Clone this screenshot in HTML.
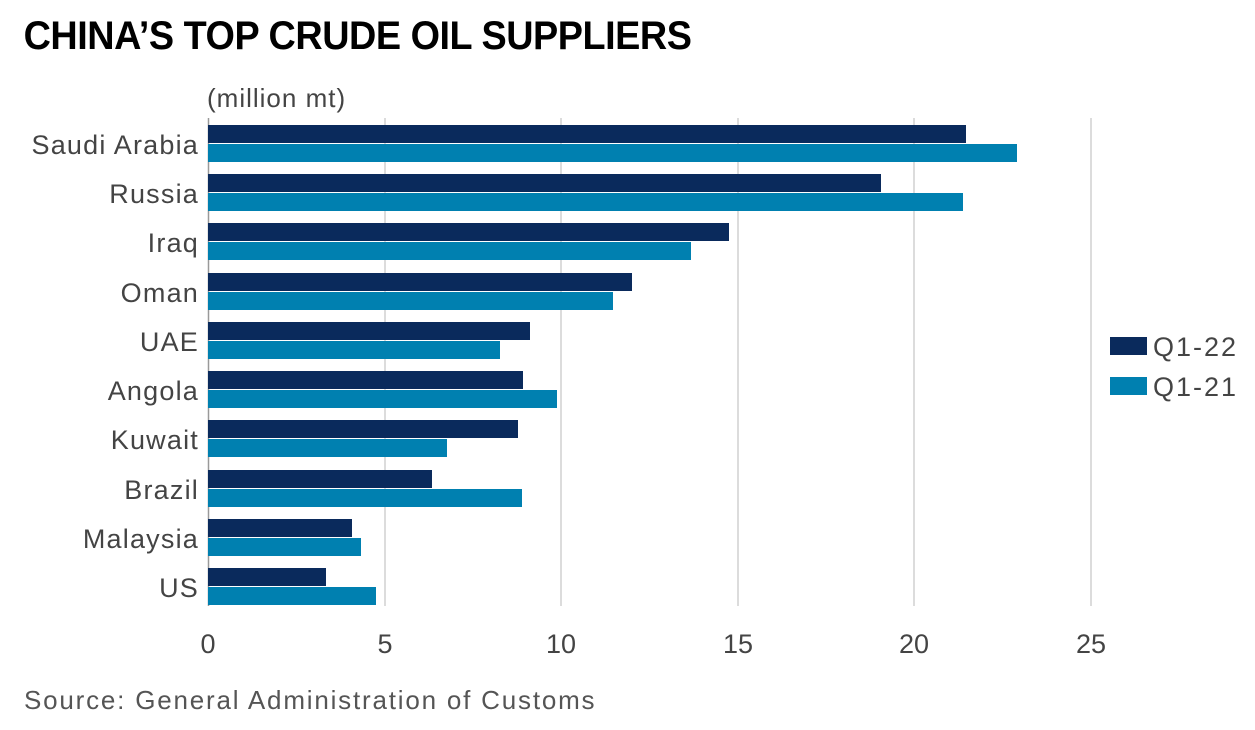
<!DOCTYPE html>
<html><head><meta charset="utf-8"><style>
body{margin:0;background:#fff;width:1255px;height:725px;overflow:hidden;font-family:"Liberation Sans",sans-serif}
</style></head><body>
<svg width="1255" height="725" xmlns="http://www.w3.org/2000/svg" font-family="Liberation Sans, sans-serif">
<text x="25" y="49" font-size="40" font-weight="bold" fill="#000" transform="scale(0.945,1)" style="letter-spacing:-0.5px">CHINA’S TOP CRUDE OIL SUPPLIERS</text>
<text x="207" y="107" font-size="26" fill="#444" letter-spacing="1">(million mt)</text>
<g stroke="#dcdcdc" stroke-width="2">
<line x1="385" y1="118" x2="385" y2="606"/><line x1="561" y1="118" x2="561" y2="606"/>
<line x1="738" y1="118" x2="738" y2="606"/><line x1="914" y1="118" x2="914" y2="606"/>
<line x1="1091" y1="118" x2="1091" y2="606"/>
</g>
<line x1="208.5" y1="118" x2="208.5" y2="606" stroke="#999" stroke-width="1.5"/>
<g fill="#0a2a5c">
<rect x="208" y="125" width="758" height="18"/><rect x="208" y="174" width="673" height="18"/>
<rect x="208" y="223" width="521" height="18"/><rect x="208" y="273" width="424" height="18"/>
<rect x="208" y="322" width="322" height="18"/><rect x="208" y="371" width="315" height="18"/>
<rect x="208" y="420" width="310" height="18"/><rect x="208" y="470" width="224" height="18"/>
<rect x="208" y="519" width="144" height="18"/><rect x="208" y="568" width="118" height="18"/>
</g>
<g fill="#0080b0">
<rect x="208" y="144" width="809" height="18"/><rect x="208" y="193" width="755" height="18"/>
<rect x="208" y="242" width="483" height="18"/><rect x="208" y="292" width="405" height="18"/>
<rect x="208" y="341" width="292" height="18"/><rect x="208" y="390" width="349" height="18"/>
<rect x="208" y="439" width="239" height="18"/><rect x="208" y="489" width="314" height="18"/>
<rect x="208" y="538" width="153" height="18"/><rect x="208" y="587" width="168" height="18"/>
</g>
<g font-size="27" fill="#444" text-anchor="end" letter-spacing="1.2">
<text x="199" y="154">Saudi Arabia</text><text x="199" y="203">Russia</text>
<text x="199" y="252">Iraq</text><text x="199" y="302">Oman</text>
<text x="199" y="351">UAE</text><text x="199" y="400">Angola</text>
<text x="199" y="449">Kuwait</text><text x="199" y="499">Brazil</text>
<text x="199" y="548">Malaysia</text><text x="199" y="597">US</text>
</g>
<g font-size="27" fill="#444" text-anchor="middle">
<text x="208" y="653">0</text><text x="385" y="653">5</text><text x="561" y="653">10</text>
<text x="738" y="653">15</text><text x="914" y="653">20</text><text x="1091" y="653">25</text>
</g>
<rect x="1110" y="337" width="37" height="18" fill="#0a2a5c"/>
<rect x="1110" y="377" width="37" height="18" fill="#0080b0"/>
<text x="1153" y="356" font-size="27" fill="#444" letter-spacing="2">Q1-22</text>
<text x="1153" y="396" font-size="27" fill="#444" letter-spacing="2">Q1-21</text>
<text x="24" y="709" font-size="26" fill="#555" letter-spacing="1.8">Source: General Administration of Customs</text>
</svg>
</body></html>
